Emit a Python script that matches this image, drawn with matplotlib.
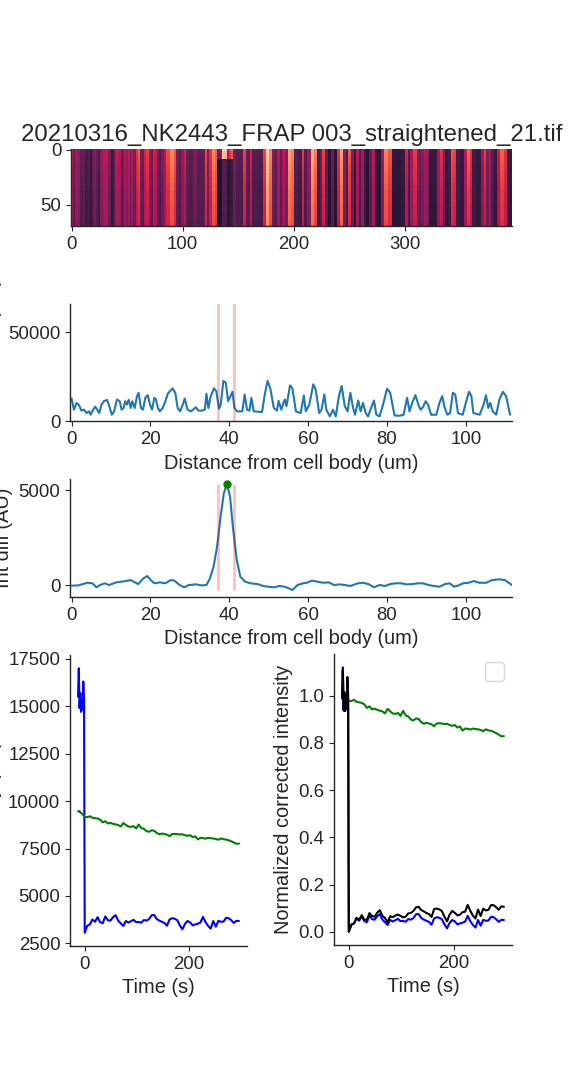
import numpy as np
import matplotlib
matplotlib.use("Agg")
import matplotlib.pyplot as plt
import seaborn as sns

# pre-bleach intensity profile along the straightened neurite
dist_um = [0.0, 0.6, 1.3, 1.9, 2.5, 3.1, 3.8, 4.5, 4.8, 5.5, 6.0, 6.5, 7.0, 7.6, 8.2, 9.0, 9.7,
           10.2, 10.8, 11.5, 12.2, 12.7, 13.2, 13.6, 14.0, 14.5, 15.0, 15.4, 16.0, 16.6, 17.0,
           17.6, 18.1, 18.7, 19.3, 19.9, 20.4, 21.0, 21.4, 21.9, 22.4, 23.1, 23.8, 24.4, 25.6,
           26.3, 26.9, 27.5, 28.2, 28.7, 29.4, 30.3, 30.8, 31.5, 32.2, 33.0, 33.8, 34.2, 34.7,
           35.3, 36.1, 36.7, 37.4, 37.8, 38.5, 39.1, 39.7, 40.3, 40.8, 41.3, 42.0, 43.3, 43.9,
           44.5, 45.1, 45.6, 46.2, 48.3, 49.0, 49.7, 50.4, 51.3, 52.1, 52.5, 53.2, 53.8, 54.1,
           54.5, 55.4, 56.0, 56.9, 58.1, 58.9, 59.4, 60.3, 61.3, 61.9, 62.8, 63.4, 64.1, 64.6,
           65.5, 66.3, 67.0, 67.8, 68.5, 69.3, 70.0, 70.7, 71.4, 71.9, 72.7, 73.3, 73.9, 74.6,
           75.2, 75.8, 76.7, 77.3, 78.1, 79.0, 80.0, 80.8, 81.9, 83.2, 84.2, 85.1, 85.7, 86.4,
           87.2, 88.1, 88.5, 89.1, 89.8, 90.4, 91.2, 92.5, 93.3, 94.0, 94.6, 95.3, 96.0, 96.7,
           97.3, 98.0, 99.2, 100.1, 100.8, 101.4, 101.9, 103.5, 104.5, 105.1, 105.7, 106.2,
           106.8, 107.7, 108.5, 109.4, 110.2, 111.2]
profile = [12900, 6650, 10450, 9100, 6100, 6650, 4750, 5700, 3800, 6650, 8360, 6650, 4750, 9500,
           11400, 12160, 7600, 3800, 5700, 12350, 11400, 6650, 7600, 11400, 9500, 12160, 7600,
           11400, 7600, 14250, 16150, 7600, 6650, 13300, 14800, 9500, 6650, 13300, 12350, 7600,
           5700, 7600, 11400, 15600, 18600, 16150, 7600, 5700, 9500, 12900, 6650, 5700, 6650,
           8000, 6100, 6100, 6650, 15600, 7600, 14250, 18600, 17100, 7200, 9100, 22800, 21850,
           11400, 14250, 16700, 7600, 5700, 5700, 15200, 6650, 6100, 13300, 5700, 5300, 15200,
           22800, 18600, 7600, 6100, 11600, 6650, 11000, 12350, 8550, 20300, 18600, 5700, 4750,
           14600, 5700, 9500, 20900, 18050, 4750, 6650, 15200, 6650, 2850, 6650, 2850, 14250,
           19950, 8550, 5700, 16150, 7600, 3800, 11800, 5700, 10450, 4750, 2850, 6650, 11800,
           3800, 2850, 9500, 18430, 16150, 3420, 3230, 3800, 13300, 5700, 10450, 14800, 8550,
           6650, 8000, 11400, 9500, 3800, 3800, 10450, 14250, 8000, 3800, 4750, 16150, 15200,
           4750, 3800, 11400, 16700, 14250, 4750, 3800, 9500, 14800, 7600, 10450, 5700, 3800,
           12350, 16700, 14250, 3800]

# pre minus post bleach profile (smoothed)
diff_um = [0.0, 1.7, 4.0, 5.3, 6.3, 7.2, 8.4, 9.5, 11.3, 13.2, 15.0, 16.9, 18.2, 19.2, 20.1,
           21.0, 22.4, 23.8, 25.1, 26.1, 27.4, 28.6, 29.7, 31.6, 32.9, 34.2, 35.1, 36.0, 36.9,
           37.8, 38.6, 39.4, 40.2, 40.9, 41.9, 42.8, 44.0, 45.4, 47.2, 48.6, 50.0, 51.4, 52.7,
           54.1, 55.1, 56.0, 57.3, 58.7, 59.6, 61.0, 62.4, 63.7, 65.2, 66.6, 67.9, 69.3, 70.7,
           72.6, 73.9, 75.3, 76.7, 78.1, 79.5, 80.8, 82.2, 83.6, 85.0, 86.4, 87.8, 89.1, 90.5,
           91.9, 93.3, 94.7, 95.9, 97.0, 98.1, 99.3, 100.7, 102.0, 103.4, 105.2, 106.6, 108.5,
           109.9, 111.7]
int_diff = [-35, -20, 120, 90, -120, 0, 90, 0, 140, 190, 260, 50, 350, 470, 260, 90, 140, 90,
            260, 230, 0, -120, 0, 35, -20, 0, 350, 960, 2020, 3600, 4820, 5316, 4650, 3070,
            1320, 440, 175, 90, 50, -50, -90, -120, -50, -90, -175, -263, 0, 90, 120, 230, 175,
            120, 140, 0, 35, 0, -50, 90, 120, 50, -120, 0, -50, 50, 90, 90, 35, 50, 90, 90, 0,
            -50, -90, 50, 90, -90, -20, 90, 120, 210, 120, 120, 260, 300, 260, 0]
bleach_um = [37.1, 41.1]

# FRAP time course
n_pre = 9
n_post = 61
frap_pre = [15500, 17000, 14900, 15700, 14700, 15300, 14800, 16300, 15300]
frap_post = [3060, 3430, 3500, 3760, 3640, 3880, 3620, 3560, 3920, 3720, 3700, 3880, 3990, 3700,
             3560, 3420, 3680, 3600, 3670, 3740, 3620, 3630, 3590, 3730, 3700, 3780, 3980, 4000,
             3790, 3700, 3640, 3580, 3430, 3760, 3830, 3800, 3720, 3450, 3240, 3530, 3680, 3610,
             3450, 3500, 3540, 3600, 3900, 3620, 3420, 3280, 3680, 3380, 3690, 3640, 3650, 3850,
             3830, 3720, 3580, 3690, 3680]
ref_pre = [9460, 9450, 9480, 9400, 9370, 9350, 9300, 9260, 9200]
ref_post = [9160, 9150, 9200, 9120, 9100, 9080, 9020, 8880, 8940, 8820, 8850, 8800, 8770, 8740,
            8660, 8840, 8740, 8660, 8640, 8680, 8560, 8760, 8580, 8540, 8420, 8380, 8460, 8440,
            8320, 8250, 8290, 8260, 8230, 8150, 8260, 8270, 8260, 8240, 8250, 8200, 8170, 8200,
            8100, 8140, 7980, 8060, 8050, 8020, 8060, 8040, 8030, 8000, 7960, 8030, 7990, 7970,
            7930, 7880, 7820, 7750, 7760]
t_first = -12.8
pre_interval = 1.44
post_interval = 4.93
px_um = 0.2822
kymo_w = 397

time = np.concatenate([t_first + pre_interval * np.arange(n_pre), post_interval * np.arange(n_post)])
frap = np.array(frap_pre + frap_post, dtype=float)
ref = np.array(ref_pre + ref_post, dtype=float)

ref_norm = ref / ref[:n_pre].mean()
frap_norm = (frap - frap.min()) / (frap[:n_pre].mean() - frap.min())
corr = frap / ref_norm
corr_norm = (corr - corr.min()) / (corr[:n_pre].mean() - corr.min())

# kymograph rebuilt from the profile, bleach and reference decay
prof = np.array(profile, dtype=float)
cols = np.array(dist_um) / px_um
col_edges = np.concatenate([[-0.5], (cols[1:] + cols[:-1]) / 2, [kymo_w - 0.5]])
row_edges = np.arange(n_pre + n_post + 1) - 0.5
in_bleach = (np.array(dist_um) >= bleach_um[0]) & (np.array(dist_um) <= bleach_um[1])
kymo = np.outer(ref_norm, prof)
kymo[:, in_bleach] = np.outer(frap / frap[:n_pre].mean(), prof[in_bleach])

sns.set_style("ticks")
plt.rcParams["font.family"] = ["Liberation Sans", "DejaVu Sans"]
plt.rcParams.update({
    "xtick.labelsize": 13.4, "ytick.labelsize": 13.4,
    "axes.labelsize": 14.4, "axes.titlesize": 17.3,
    "xtick.major.size": 3.5, "ytick.major.size": 3.5,
    "axes.linewidth": 1.0,
})

W, H = 568, 1080
fig = plt.figure(figsize=(W / 100, H / 100), dpi=100)


def box(x0, y0, x1, y1):
    return [x0 / W, 1 - y1 / H, (x1 - x0) / W, (y1 - y0) / H]


ax_k = fig.add_axes(box(71, 149, 512, 226))
ax_k.pcolormesh(col_edges, row_edges, kymo, cmap=sns.color_palette("rocket", as_cmap=True),
                vmin=0, vmax=25000, shading="flat")
ax_k.set_xlim(-0.5, kymo_w - 0.5)
ax_k.set_ylim(n_pre + n_post - 0.5, -0.5)
ax_k.set_xticks([0, 100, 200, 300])
ax_k.set_yticks([0, 50])
ax_k.set_title("20210316_NK2443_FRAP 003_straightened_21.tif")

ax_p = fig.add_axes(box(70, 304, 512, 421.5))
ax_p.plot(dist_um, profile, lw=1.5)
for xb in bleach_um:
    ax_p.axvline(xb, color="r", alpha=0.25, lw=2)
ax_p.set_xlim(-0.4, 111.7)
ax_p.set_ylim(0, 66000)
ax_p.set_yticks([0, 50000])
ax_p.set_xlabel("Distance from cell body (um)")
ax_p.set_ylabel("Pre-bleach int (AU)")

ax_d = fig.add_axes(box(70, 479, 512, 597))
ax_d.plot(diff_um, int_diff, lw=1.5)
ax_d.vlines(bleach_um, min(int_diff), max(int_diff), color="r", alpha=0.25, lw=2)
ipk = int(np.argmax(int_diff))
ax_d.plot(diff_um[ipk], int_diff[ipk], "o", color="g", ms=5)
ax_d.set_xlim(-0.4, 111.7)
ax_d.set_ylim(-630, 5580)
ax_d.set_yticks([0, 5000])
ax_d.set_xlabel("Distance from cell body (um)")
ax_d.set_ylabel("Int diff (AU)")

ax_i = fig.add_axes(box(70, 655, 247, 946))
ax_i.plot(time, frap, color="b", lw=1.5)
ax_i.plot(time, ref, color="g", lw=1.5)
ax_i.set_xlabel("Time (s)")
ax_i.set_ylabel("Intensity (AU)")

ax_n = fig.add_axes(box(334, 654, 512, 945))
ax_n.plot(time, ref_norm, color="g", lw=1.5)
ax_n.plot(time, frap_norm, color="b", lw=1.5)
ax_n.plot(time, corr_norm, color="k", lw=1.5)
ax_n.legend(handles=[], loc="upper right", fontsize=12, borderpad=0.55)
ax_n.set_xlabel("Time (s)")
ax_n.set_ylabel("Normalized corrected intensity")

for ax in [ax_k, ax_p, ax_d, ax_i, ax_n]:
    sns.despine(ax=ax)

fig.savefig("out.png", dpi=100)
